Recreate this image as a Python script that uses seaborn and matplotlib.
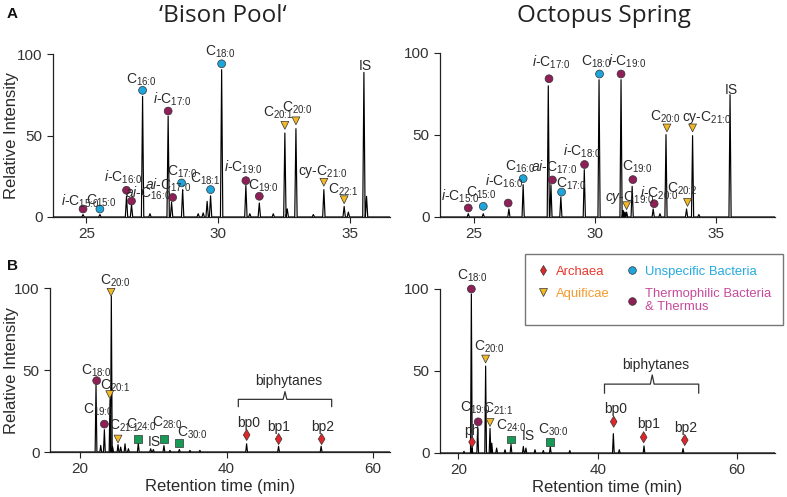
import matplotlib
matplotlib.use("Agg")
import matplotlib.pyplot as plt
from matplotlib.lines import Line2D
import pandas as pd
import seaborn as sns

# ---------------- data ----------------
# A, 'Bison Pool': peaks (retention time, relative intensity)
bison_a_rt = [24.87, 25.51, 26.52, 26.71, 27.13, 27.41, 28.10, 28.23, 28.65, 29.24, 29.43,
              29.58, 29.71, 30.13, 31.05, 31.20, 31.56, 32.09, 32.53, 32.62, 32.95, 33.61,
              34.01, 34.78, 34.94, 35.53, 35.63]
bison_a_h = [1.5, 1.5, 12.7, 7.6, 74.0, 2.0, 61.8, 9.0, 16.8, 2.0, 2.5,
             9.6, 13.0, 90.4, 19.4, 2.0, 8.6, 2.0, 51.5, 5.0, 54.2, 1.5,
             16.8, 6.5, 3.0, 88.7, 12.7]
bison_a_mk_rt = [24.87, 25.51, 26.52, 26.71, 27.13, 28.10, 28.27, 28.61, 29.71, 30.13,
                 31.05, 31.56, 32.53, 32.95, 34.01, 34.78]
bison_a_mk_h = [4.9, 4.9, 16.4, 9.8, 77.7, 65.0, 12.0, 20.9, 16.8, 94.0,
                22.3, 12.7, 56.2, 59.0, 21.3, 10.6]
bison_a_mk_grp = ["therm", "unsp", "therm", "therm", "unsp", "therm", "therm", "unsp", "unsp", "unsp",
                  "therm", "therm", "aqui", "aqui", "aqui", "aqui"]
bison_a_lbl = [r"$i$-C$_{15\colon 0}$", r"C$_{15\colon 0}$", r"$i$-C$_{16\colon 0}$", r"$ai$-C$_{16\colon 0}$",
               r"C$_{16\colon 0}$", r"$i$-C$_{17\colon 0}$", r"$ai$-C$_{17\colon 0}$", r"C$_{17\colon 0}$",
               r"C$_{18\colon 1}$", r"C$_{18\colon 0}$", r"$i$-C$_{19\colon 0}$", r"C$_{19\colon 0}$",
               r"C$_{20\colon 1}$", r"C$_{20\colon 0}$", r"cy-C$_{21\colon 0}$", r"C$_{22\colon 1}$", "IS"]
bison_a_lbl_x = [24.75, 25.56, 26.39, 27.34, 27.09, 28.24, 28.10, 28.65, 29.52, 30.09,
                 30.95, 31.73, 32.27, 33.00, 33.96, 34.76, 35.57]
bison_a_lbl_y = [7.2, 7.6, 21.5, 11.7, 81.8, 69.5, 16.8, 25.6, 21.1, 99.2,
                 27.6, 17.0, 61.3, 64.4, 25.6, 14.1, 90.0]

# A, Octopus Spring
octo_a_rt = [24.76, 25.38, 26.44, 27.03, 28.07, 28.18, 28.59, 29.56, 30.17, 31.08, 31.17,
             31.24, 31.31, 31.54, 32.41, 32.69, 32.94, 33.79, 34.04, 34.30, 35.59]
octo_a_h = [2.0, 2.0, 4.9, 19.7, 80.0, 19.7, 12.2, 28.9, 83.7, 83.7, 4.0,
            3.0, 3.0, 18.7, 4.9, 2.0, 50.2, 4.9, 49.6, 1.5, 74.6]
octo_a_mk_rt = [24.76, 25.38, 26.41, 27.03, 28.10, 28.24, 28.62, 29.57, 30.19, 31.08,
                31.31, 31.57, 32.45, 32.98, 33.83, 34.04]
octo_a_mk_h = [5.5, 6.5, 8.5, 23.4, 84.3, 22.6, 15.2, 32.0, 87.2, 87.2,
               6.9, 22.8, 8.1, 54.3, 8.9, 54.3]
octo_a_mk_grp = ["therm", "unsp", "therm", "unsp", "therm", "therm", "unsp", "therm", "unsp", "therm",
                 "aqui", "therm", "therm", "aqui", "aqui", "aqui"]
octo_a_lbl = [r"$i$-C$_{15\colon 0}$", r"C$_{15\colon 0}$", r"$i$-C$_{16\colon 0}$", r"C$_{16\colon 0}$",
              r"$i$-C$_{17\colon 0}$", r"$ai$-C$_{17\colon 0}$", r"C$_{17\colon 0}$", r"$i$-C$_{18\colon 0}$",
              r"C$_{18\colon 0}$", r"$i$-C$_{19\colon 0}$", r"$cy$-C$_{19\colon 0}$", r"C$_{19\colon 0}$",
              r"$i$-C$_{20\colon 0}$", r"C$_{20\colon 2}$", r"C$_{20\colon 0}$", r"cy-C$_{21\colon 0}$", "IS"]
octo_a_lbl_x = [24.44, 25.30, 26.26, 26.92, 28.21, 28.29, 29.02, 29.46, 30.06, 31.34, 31.45,
                31.74, 32.66, 33.61, 32.92, 34.63, 35.66]
octo_a_lbl_y = [10.2, 12.2, 19.3, 28.5, 91.5, 27.4, 17.7, 37.6, 92.5, 92.5, 9.6,
                28.0, 11.6, 14.6, 59.0, 58.3, 75.2]

# B, 'Bison Pool'
bison_b_rt = [22.18, 22.82, 23.32, 24.09, 24.27, 24.45, 25.18, 25.55, 26.14, 26.60, 27.95,
              29.64, 30.00, 31.45, 32.27, 33.55, 35.00, 36.36, 42.73, 47.09, 52.90]
bison_b_h = [41.0, 4.0, 13.6, 32.0, 95.0, 3.0, 4.5, 3.0, 5.0, 2.0, 5.5,
             2.0, 1.5, 3.9, 1.0, 1.5, 1.0, 1.0, 5.0, 3.5, 3.5]
bison_b_mk_rt = [22.27, 23.32, 24.05, 24.23, 25.18, 27.95, 31.50, 33.50, 42.74, 47.10, 52.97]
bison_b_mk_h = [43.5, 17.0, 35.0, 97.4, 7.9, 7.9, 8.1, 5.3, 10.4, 7.9, 7.9]
bison_b_mk_grp = ["therm", "therm", "aqui", "aqui", "aqui", "other", "other", "other",
                  "arch", "arch", "arch"]
bison_b_lbl = [r"C$_{20\colon 0}$", r"C$_{18\colon 0}$", r"C$_{20\colon 1}$", r"C$_{19\colon 0}$",
               r"C$_{21\colon 1}$", r"C$_{24\colon 0}$", "IS", r"C$_{28\colon 0}$", r"C$_{30\colon 0}$",
               "bp0", "bp1", "bp2", "biphytanes"]
bison_b_lbl_x = [24.84, 22.16, 24.77, 22.50, 26.10, 28.30, 30.09, 31.90, 35.30, 43.00, 47.15, 53.10, 48.50]
bison_b_lbl_y = [101.8, 47.0, 37.8, 23.2, 13.8, 14.4, 3.5, 15.4, 9.3, 15.0, 13.0, 13.0, 40.9]
bison_b_brace_x = [41.6, 47.97, 54.34]
bison_b_brace_y = [27.6, 32.1, 36.8]

# B, Octopus Spring
octo_b_rt = [20.81, 21.87, 21.95, 22.78, 23.92, 24.55, 24.80, 25.50, 26.70, 27.56, 29.33,
             29.70, 31.00, 32.20, 33.20, 36.00, 42.25, 43.10, 46.65, 52.25]
octo_b_h = [1.0, 97.0, 3.0, 16.0, 53.0, 15.0, 6.0, 3.0, 2.0, 5.3, 4.0,
            3.0, 2.0, 1.5, 3.7, 1.5, 11.8, 2.0, 4.3, 2.7]
octo_b_mk_rt = [21.97, 21.87, 22.85, 23.92, 24.55, 27.56, 33.20, 42.30, 46.60, 52.50]
octo_b_mk_h = [6.7, 100.0, 19.0, 57.3, 18.6, 8.2, 6.9, 19.1, 9.6, 7.9]
octo_b_mk_grp = ["arch", "therm", "therm", "aqui", "aqui", "other", "other", "arch", "arch", "arch"]
octo_b_lbl = [r"C$_{18\colon 0}$", r"C$_{20\colon 0}$", r"C$_{19\colon 0}$", r"C$_{21\colon 1}$", "ph",
              r"C$_{24\colon 0}$", "IS", r"C$_{30\colon 0}$", "bp0", "bp1", "bp2", "biphytanes"]
octo_b_lbl_x = [21.97, 24.47, 22.40, 25.67, 22.00, 27.60, 30.06, 33.60, 42.60, 47.30, 52.60, 48.40]
octo_b_lbl_y = [105.9, 62.2, 25.0, 24.6, 11.0, 14.4, 8.0, 12.0, 24.6, 15.0, 13.0, 51.0]
octo_b_brace_x = [40.98, 47.83, 54.50]
octo_b_brace_y = [36.4, 42.0, 47.6]

# legend
legend_names = ["Archaea", "Aquificae", "Unspecific Bacteria", "Thermophilic Bacteria\n& Thermus"]
legend_groups = ["arch", "aqui", "unsp", "therm"]
legend_text_colors = ["#e8382f", "#f59a2e", "#25aae1", "#c64a9b"]

palette = {"therm": "#8e1f57", "unsp": "#1ea5dc", "aqui": "#f2b825",
           "arch": "#e0262a", "other": "#169a55"}
shapes = {"therm": "o", "unsp": "o", "aqui": "v", "arch": "d", "other": "s"}

# ---------------- style ----------------
sns.set_style("ticks")
plt.rcParams["font.family"] = ["Liberation Sans", "DejaVu Sans"]
plt.rcParams["mathtext.fontset"] = "custom"
plt.rcParams["mathtext.rm"] = "Liberation Sans"
plt.rcParams["mathtext.it"] = "Liberation Sans:italic"
plt.rcParams["mathtext.bf"] = "Liberation Sans:bold"

text_col = "#2a2a2a"


def draw_panel(ax, rt, h, mk_rt, mk_h, mk_grp, lbl, lbl_x, lbl_y, xlim, width):
    # chromatogram trace: each peak drawn as a narrow spike on a flat baseline
    xs, ys = [xlim[0]], [0.0]
    for r, v in zip(rt, h):
        xs += [r - width, r, r + width]
        ys += [0.0, v, 0.0]
    xs.append(xlim[1])
    ys.append(0.0)
    trace = pd.DataFrame({"time": xs, "intensity": ys})
    sns.lineplot(data=trace, x="time", y="intensity", sort=False, estimator=None,
                 color="black", lw=0.85, ax=ax, zorder=3)

    marks = pd.DataFrame({"time": mk_rt, "height": mk_h, "group": mk_grp})
    sns.scatterplot(data=marks, x="time", y="height", hue="group", style="group",
                    palette=palette, markers=shapes, s=32, edgecolor="#333333",
                    linewidth=0.5, legend=False, zorder=5, clip_on=False, ax=ax)

    for t, x, y in zip(lbl, lbl_x, lbl_y):
        ax.text(x, y, t, ha="center", va="baseline", fontsize=10, color=text_col,
                clip_on=False, zorder=6)

    ax.set_xlim(xlim)
    ax.set_ylim(0, 100)
    ax.set_yticks([0, 50, 100])
    ax.set_xlabel("")
    ax.set_ylabel("")
    ax.tick_params(labelsize=11, colors="#222222", labelcolor="#333333", length=4, width=0.8)
    for s in ["left", "bottom"]:
        ax.spines[s].set_linewidth(0.9)
        ax.spines[s].set_color("#222222")
    sns.despine(ax=ax)


def draw_brace(ax, bx, by):
    x0, xm, x1 = bx
    y0, y1, y2 = by
    d = (x1 - x0) * 0.02
    ax.plot([x0, x0, xm - d, xm, xm + d, x1, x1], [y0, y1, y1, y2, y1, y1, y0],
            color="#333333", lw=0.9, clip_on=False)


fig = plt.figure(figsize=(7.87, 4.97), dpi=100)
ax_a1 = fig.add_axes([53 / 787, 1 - 217 / 497, 337 / 787, 163 / 497])
ax_a2 = fig.add_axes([440 / 787, 1 - 217 / 497, 335 / 787, 164 / 497])
ax_b1 = fig.add_axes([50 / 787, 1 - 452 / 497, 340 / 787, 164 / 497])
ax_b2 = fig.add_axes([440 / 787, 1 - 453 / 497, 335 / 787, 164 / 497])

draw_panel(ax_a1, bison_a_rt, bison_a_h, bison_a_mk_rt, bison_a_mk_h, bison_a_mk_grp,
           bison_a_lbl, bison_a_lbl_x, bison_a_lbl_y, (23.73, 36.52), 0.045)
draw_panel(ax_a2, octo_a_rt, octo_a_h, octo_a_mk_rt, octo_a_mk_h, octo_a_mk_grp,
           octo_a_lbl, octo_a_lbl_x, octo_a_lbl_y, (23.59, 37.45), 0.045)
draw_panel(ax_b1, bison_b_rt, bison_b_h, bison_b_mk_rt, bison_b_mk_h, bison_b_mk_grp,
           bison_b_lbl, bison_b_lbl_x, bison_b_lbl_y, (15.9, 62.3), 0.12)
draw_panel(ax_b2, octo_b_rt, octo_b_h, octo_b_mk_rt, octo_b_mk_h, octo_b_mk_grp,
           octo_b_lbl, octo_b_lbl_x, octo_b_lbl_y, (17.37, 65.45), 0.12)
draw_brace(ax_b1, bison_b_brace_x, bison_b_brace_y)
draw_brace(ax_b2, octo_b_brace_x, octo_b_brace_y)

for ax in (ax_a1, ax_a2):
    ax.set_xticks([25, 30, 35])
for ax in (ax_b1, ax_b2):
    ax.set_xticks([20, 40, 60])
    ax.set_xlabel("Retention time (min)", fontsize=12, color=text_col, labelpad=2)
ax_a1.set_ylabel("Relative Intensity", fontsize=12, color=text_col)
ax_a1.yaxis.set_label_coords(-0.10, 0.5)
ax_b1.set_ylabel("Relative Intensity", fontsize=12, color=text_col)
ax_b1.yaxis.set_label_coords(-0.091, 0.5)

# titles and panel letters
fig.text(0.283, 1 - 21.7 / 497, "\u2018Bison Pool\u2018", ha="center", va="baseline",
         fontsize=17.5, family="Open Sans", color="#222222")
fig.text(0.768, 1 - 21.7 / 497, "Octopus Spring", ha="center", va="baseline",
         fontsize=17.5, family="Open Sans", color="#222222")
fig.text(7 / 787, 1 - 18 / 497, "A", fontsize=11, weight="bold", color="#111111")
fig.text(7 / 787, 1 - 270 / 497, "B", fontsize=11, weight="bold", color="#111111")

# legend
handles = [Line2D([], [], ls="", marker=shapes[g], color=palette[g], markeredgecolor="#333333",
                  markeredgewidth=0.5, markersize=5.5) for g in legend_groups]
leg = fig.legend(handles, legend_names, loc="upper left", bbox_to_anchor=(525 / 787, 1 - 254 / 497),
                 borderaxespad=0, ncol=2, frameon=True, fancybox=False, edgecolor="#555555",
                 fontsize=9.4, labelcolor=legend_text_colors, handlelength=1.0, handletextpad=0.5,
                 columnspacing=1.2, borderpad=0.9, labelspacing=0.75)
leg.get_frame().set_linewidth(1.0)

fig.savefig("out.png", dpi=100)
